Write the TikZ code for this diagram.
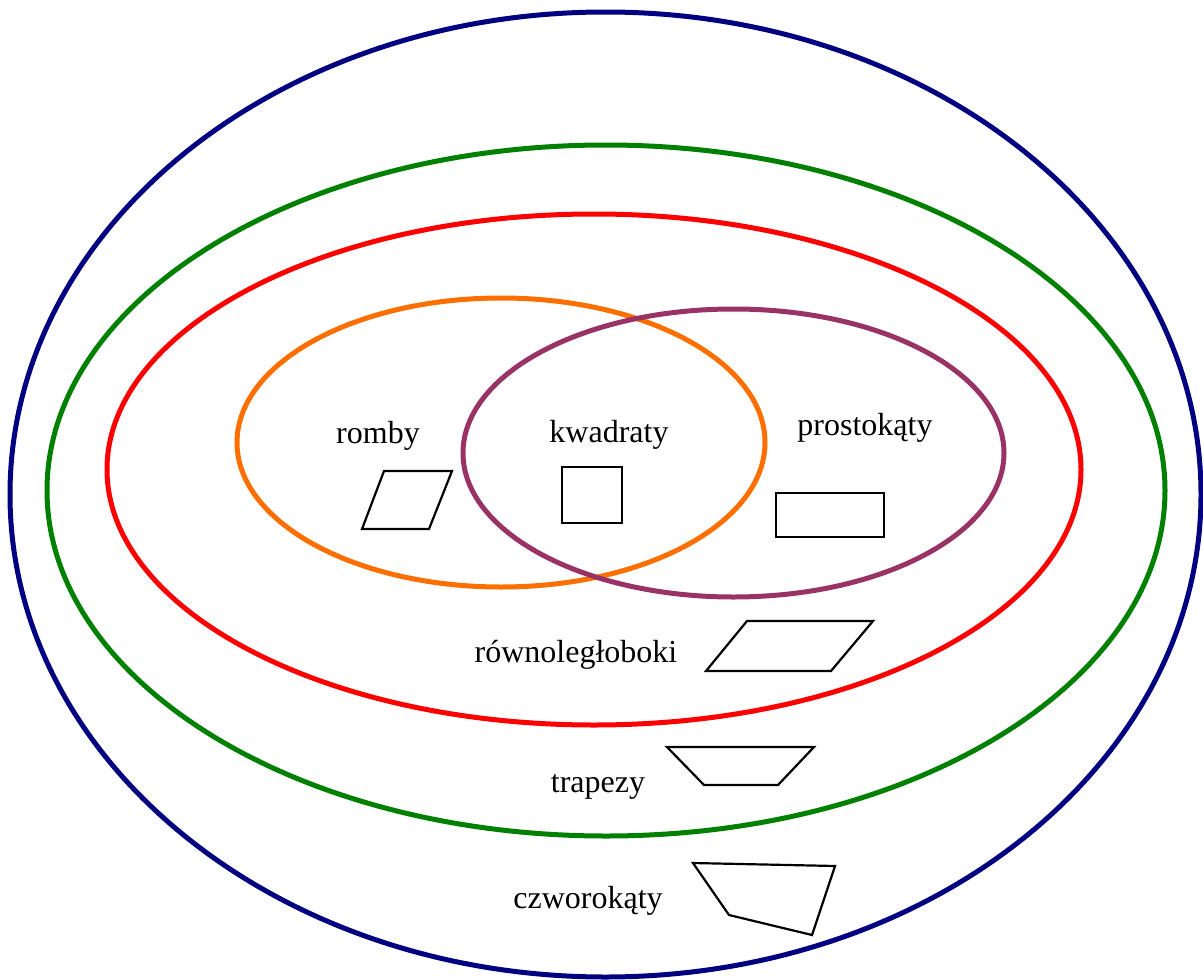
\documentclass[tikz,border=0pt]{standalone}
\usepackage{fontspec}
\setmainfont{Liberation Serif}
\definecolor{cnavy}{HTML}{000080}
\definecolor{cgreen}{HTML}{008000}
\definecolor{cred}{HTML}{FF0000}
\definecolor{corange}{HTML}{FF6F00}
\definecolor{cpurple}{HTML}{993366}
\begin{document}
\begin{tikzpicture}[x=1pt,y=-1pt,
  setline/.style={line width=5pt},
  fig/.style={draw=black,line width=2.2pt,line join=miter},
  lab/.style={anchor=base,inner sep=0pt,font=\fontsize{32}{38}\selectfont}]
\useasboundingbox (0,0) rectangle (1203,980);
% sets
\draw[setline,cnavy] (605.5,494.5) ellipse [x radius=595.5pt, y radius=482.5pt];
\draw[setline,cgreen] (606,490.5) ellipse [x radius=559pt, y radius=345.5pt];
\draw[setline,cred] (594,469.5) ellipse [x radius=487pt, y radius=255.5pt];
\draw[setline,corange] (501,442.5) ellipse [x radius=264pt, y radius=144.5pt];
\draw[setline,cpurple] (733.5,453) ellipse [x radius=270.5pt, y radius=144pt];
% labels
\node[lab] (romby) at (378,443) {romby};
\node[lab] (kwadraty) at (609,442) {kwadraty};
\node[lab] (prostokaty) at (865,435) {prostokąty};
\node[lab] (rownoleglo) at (576,662) {równoległoboki};
\node[lab] (trapezy) at (598,792) {trapezy};
\node[lab] (czworokaty) at (588,908) {czworokąty};
% figures
\draw[fig] (384,471) -- (452,471) -- (429,529) -- (362,529) -- cycle;
\draw[fig] (562,467) rectangle (622,523);
\draw[fig] (776,493) rectangle (884,537);
\draw[fig] (747,621) -- (873,621) -- (831,671) -- (706,671) -- cycle;
\draw[fig] (667,747) -- (814,747) -- (778,785) -- (704,785) -- cycle;
\draw[fig] (693,863) -- (835,866) -- (812,935) -- (729,915) -- cycle;
\end{tikzpicture}
\end{document}
